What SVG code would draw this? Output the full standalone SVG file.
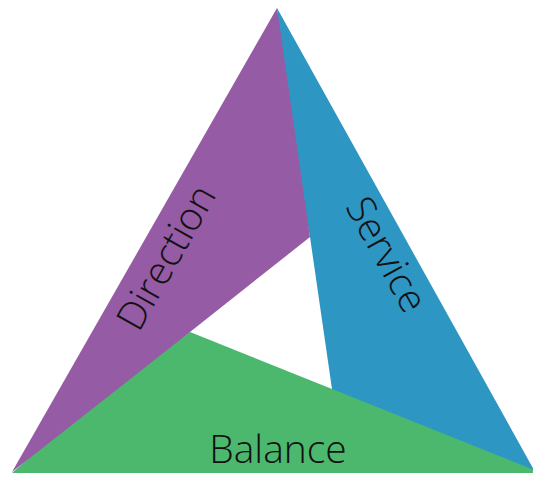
<svg xmlns="http://www.w3.org/2000/svg" width="533" height="477" viewBox="0 0 533 477">
<style>
.lbl{font-family:"Open Sans","Noto Sans",sans-serif;font-weight:300;fill:#111;font-size:39px;text-anchor:middle}
</style>
<rect width="533" height="477" fill="#fff"/>
<g id="service">
<polygon points="277,8 534,470 534,472 332,392 332,389 310,237 285,100" fill="#2E96C3"/>
<text class="lbl" transform="translate(375,261) rotate(61)">Service</text>
</g>
<g id="balance">
<polygon points="12,473 100,395 190,332 534,470 534,473" fill="#4BB86E"/>
<text class="lbl" x="278" y="463">Balance</text>
</g>
<g id="direction">
<polygon points="277,8 310,237 190,332 12,472" fill="#955BA5"/>
<text class="lbl" transform="translate(178,264) rotate(-60.5)">Direction</text>
</g>
<g id="connectors"/>
</svg>
